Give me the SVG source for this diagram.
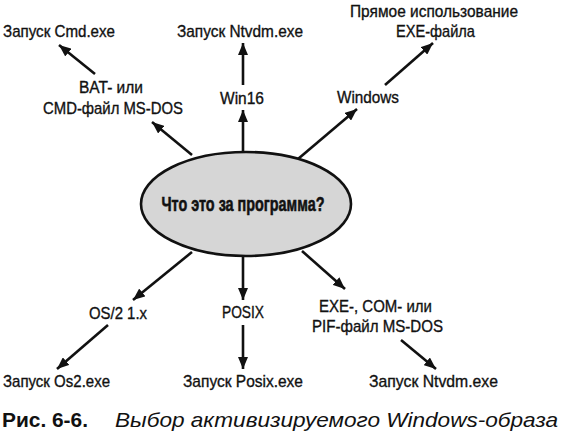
<svg xmlns="http://www.w3.org/2000/svg" width="570" height="447" viewBox="0 0 570 447">
<defs>
<style>
.lbl{font-family:"Liberation Sans",Arial,sans-serif;font-size:17px;fill:#111;stroke:#111;stroke-width:0.35;text-anchor:middle}
.ctr{font-family:"Liberation Sans",Arial,sans-serif;font-size:21px;font-weight:bold;fill:#111;stroke:#111;stroke-width:0.6;text-anchor:middle}
.cap{font-family:"Liberation Sans",Arial,sans-serif;font-size:21px;fill:#111}
.cn line{stroke:#111;stroke-width:2.6;marker-end:url(#ah)}
</style>
<marker id="ah" markerUnits="userSpaceOnUse" markerWidth="13" markerHeight="10" refX="12" refY="5" orient="auto">
<path d="M0,0 L12,5 L0,10 z" fill="#111"/>
</marker>
</defs>
<rect width="570" height="447" fill="#fff"/>
<g class="cn" id="connectors">
<line x1="95" y1="74" x2="59" y2="45"/>
<line x1="192" y1="155" x2="152" y2="122"/>
<line x1="243" y1="152" x2="243" y2="110"/>
<line x1="243" y1="85" x2="243" y2="43"/>
<line x1="298" y1="159" x2="357" y2="109"/>
<line x1="385" y1="85" x2="433" y2="43"/>
<line x1="192" y1="252" x2="133" y2="300"/>
<line x1="108" y1="325" x2="57" y2="369"/>
<line x1="243" y1="257" x2="243" y2="300"/>
<line x1="243" y1="325" x2="243" y2="369"/>
<line x1="302" y1="251" x2="345" y2="289"/>
<line x1="401" y1="340" x2="436" y2="369"/>
</g>
<g id="center">
<ellipse cx="246" cy="204" rx="105" ry="52" fill="#d6d6d6" stroke="#111" stroke-width="2.6"/>
<text class="ctr" x="243" y="211" textLength="163" lengthAdjust="spacingAndGlyphs">Что это за программа?</text>
</g>
<g id="cmd"><text class="lbl" x="59" y="37" textLength="112" lengthAdjust="spacingAndGlyphs">Запуск Cmd.exe</text></g>
<g id="ntvdm-top"><text class="lbl" x="240" y="37" textLength="126" lengthAdjust="spacingAndGlyphs">Запуск Ntvdm.exe</text></g>
<g id="direct-exe">
<text class="lbl" x="434" y="17" textLength="168" lengthAdjust="spacingAndGlyphs">Прямое использование</text>
<text class="lbl" x="435.5" y="37" textLength="79" lengthAdjust="spacingAndGlyphs">EXE-файла</text>
</g>
<g id="bat">
<text class="lbl" x="111" y="93" textLength="64" lengthAdjust="spacingAndGlyphs">BAT- или</text>
<text class="lbl" x="113" y="114" textLength="140" lengthAdjust="spacingAndGlyphs">CMD-файл MS-DOS</text>
</g>
<g id="win16"><text class="lbl" x="242" y="104" textLength="44" lengthAdjust="spacingAndGlyphs">Win16</text></g>
<g id="windows"><text class="lbl" x="368" y="103" textLength="62" lengthAdjust="spacingAndGlyphs">Windows</text></g>
<g id="os2"><text class="lbl" x="118" y="319" textLength="58" lengthAdjust="spacingAndGlyphs">OS/2 1.x</text></g>
<g id="posix"><text class="lbl" x="243" y="318" textLength="42" lengthAdjust="spacingAndGlyphs">POSIX</text></g>
<g id="dos">
<text class="lbl" x="375.5" y="312" textLength="113" lengthAdjust="spacingAndGlyphs">EXE-, COM- или</text>
<text class="lbl" x="377.5" y="332" textLength="131" lengthAdjust="spacingAndGlyphs">PIF-файл MS-DOS</text>
</g>
<g id="os2exe"><text class="lbl" x="56.5" y="387" textLength="107" lengthAdjust="spacingAndGlyphs">Запуск Os2.exe</text></g>
<g id="posixexe"><text class="lbl" x="243" y="387" textLength="120" lengthAdjust="spacingAndGlyphs">Запуск Posix.exe</text></g>
<g id="ntvdm-bottom"><text class="lbl" x="433.5" y="387" textLength="129" lengthAdjust="spacingAndGlyphs">Запуск Ntvdm.exe</text></g>
<g id="caption">
<text class="cap" x="2" y="427" font-weight="bold" textLength="86" lengthAdjust="spacingAndGlyphs">Рис. 6-6.</text>
<text class="cap" x="115" y="427" font-style="italic" textLength="443" lengthAdjust="spacingAndGlyphs">Выбор активизируемого Windows-образа</text>
</g>
</svg>
